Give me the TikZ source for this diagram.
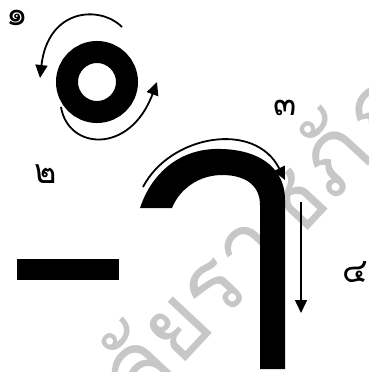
\documentclass[tikz,border=0pt]{standalone}
\usepackage{fontspec}
\newfontfamily\thaifont[Script=Thai]{Loma}
\usetikzlibrary{arrows.meta}

\begin{document}
\begin{tikzpicture}[x=1pt, y=-1pt, >={Triangle[length=13pt,width=12pt]},
  num/.style={font=\thaifont\fontsize{34}{34}\selectfont, inner sep=0pt},
  arc/.style={->, line width=1.8pt},
  wm/.style={font=\thaifont\fontsize{96}{96}\selectfont, text=black!22, inner sep=0pt}
]
  \useasboundingbox (0,0) rectangle (368,372);
  \clip (0,0) rectangle (368,372);

  % watermark
  \node[wm, rotate=47] (wmark) at (120,390) {มหาวิทยาลัยราชภัฏ};

  % ring and bar
  \node[circle, draw, line width=22pt, minimum size=60pt, inner sep=0pt] (ring) at (97,82) {};
  \node[fill, minimum width=102pt, minimum height=21pt, inner sep=0pt] (bar) at (68,269.5) {};

  % hook
  \fill (140,208) .. controls (152,172) and (180,150) .. (215,149)
        .. controls (255,148) and (285,165) .. (285,200) -- (285,369) -- (260,369)
        -- (260,205) .. controls (260,185) and (245,175) .. (222,175)
        .. controls (200,175) and (180,188) .. (172,208) -- cycle;

  \node[num] (n1) at (17,18) {๑};
  \node[num] (n2) at (46,174) {๒};
  \node[num] (n3) at (285,108) {๓};
  \node[num] (n4) at (355,272) {๔};

  \coordinate (a1s) at (122,27);
  \coordinate (a1e) at (40,78);
  \coordinate (a2s) at (61,107);
  \coordinate (a2e) at (157,82);
  \coordinate (a3s) at (143,187);
  \coordinate (a3e) at (285,180);
  \coordinate (a4s) at (301,202);
  \coordinate (a4e) at (301,313);

  \draw[arc] (a1s) .. controls (100,5) and (48,8) .. (a1e);
  \draw[arc] (a2s) .. controls (68,150) and (130,155) .. (a2e);
  \draw[arc] (a3s) .. controls (170,135) and (255,120) .. (a3e);
  \draw[->, line width=1.4pt] (a4s) -- (a4e);
\end{tikzpicture}
\end{document}
